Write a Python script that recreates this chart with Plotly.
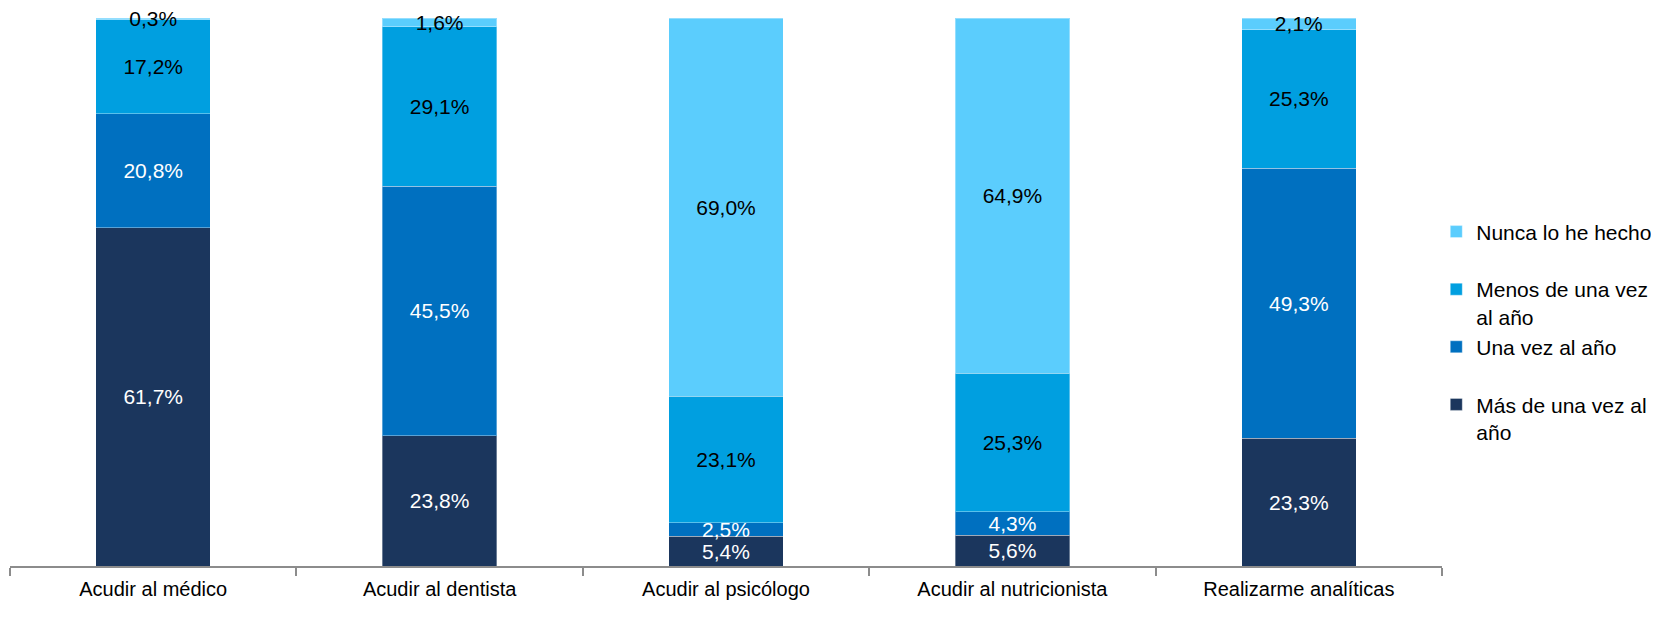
import plotly.graph_objects as go

categories = ["Acudir al médico", "Acudir al dentista", "Acudir al psicólogo",
              "Acudir al nutricionista", "Realizarme analíticas"]
mas_de_una = [61.7, 23.8, 5.4, 5.6, 23.3]
una_vez = [20.8, 45.5, 2.5, 4.3, 49.3]
menos_de_una = [17.2, 29.1, 23.1, 25.3, 25.3]
nunca = [0.3, 1.6, 69.0, 64.9, 2.1]

series = [
    ("Más de una vez al<br>año", mas_de_una, "#1B365D", "white"),
    ("Una vez al año<br> ", una_vez, "#0070C0", "white"),
    ("Menos de una vez<br>al año", menos_de_una, "#009FE0", "black"),
    ("Nunca lo he hecho<br> ", nunca, "#5BCDFD", "black"),
]

FONT = "Liberation Sans, Arial, sans-serif"

fig = go.Figure()
for name, vals, color, tcolor in series:
    fig.add_trace(go.Bar(
        x=categories, y=vals, name=name,
        marker=dict(color=color, line=dict(color="rgba(255,255,255,0.35)", width=1)),
        text=[f"{v:.1f}%".replace(".", ",") for v in vals],
        textposition="inside", insidetextanchor="middle", textangle=0,
        constraintext="none", cliponaxis=False,
        insidetextfont=dict(color=tcolor, size=21, family=FONT),
    ))

fig.update_layout(
    barmode="stack", barnorm="percent", bargap=0.6,
    width=1651, height=628,
    margin=dict(l=2, r=212, t=10, b=70),
    plot_bgcolor="white", paper_bgcolor="white",
    font=dict(family=FONT, size=21, color="black"),
    showlegend=True,
    legend=dict(traceorder="reversed", x=0.996, xanchor="left", y=0.647, yanchor="top",
                valign="top", itemwidth=30, font=dict(size=21, family=FONT)),
    uniformtext=dict(mode="show", minsize=21),
)
fig.update_xaxes(showline=True, linecolor="#8C8C8C", linewidth=1.5,
                 ticks="outside", tickson="boundaries", ticklen=8, tickcolor="#8C8C8C",
                 tickwidth=1.5, tickfont=dict(size=20, family=FONT), ticklabelstandoff=4)
fig.update_yaxes(range=[0, 100.01], visible=False, showgrid=False)

fig.write_html("out.html")
